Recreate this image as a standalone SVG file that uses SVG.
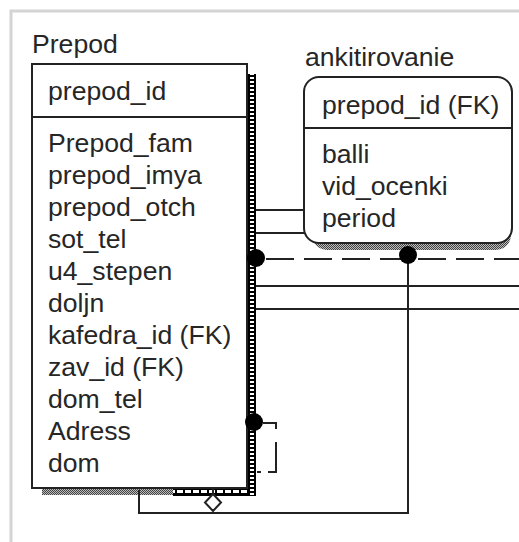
<svg xmlns="http://www.w3.org/2000/svg" width="519" height="542" viewBox="0 0 519 542">
  <defs>
    <pattern id="ladder" width="8" height="4" patternUnits="userSpaceOnUse">
      <rect width="8" height="4" fill="#000"/>
      <rect x="2" y="1" width="4" height="2" fill="#fff"/>
    </pattern>
    <pattern id="ladderH" width="8" height="8" patternUnits="userSpaceOnUse">
      <rect width="8" height="8" fill="#000"/>
      <rect x="1" y="2" width="6" height="3" fill="#fff"/>
    </pattern>
    <pattern id="dither" width="2" height="2" patternUnits="userSpaceOnUse">
      <rect width="2" height="2" fill="#bbb"/>
      <rect width="1" height="1" fill="#444"/>
      <rect x="1" y="1" width="1" height="1" fill="#444"/>
    </pattern>
  </defs>
  <style>
    text { font-family: "Liberation Sans", Arial, sans-serif; font-size: 26.6px; fill: #262626; }
    .box { fill: #fff; stroke: #222; stroke-width: 2; }
    .ln { fill: none; stroke: #222; stroke-width: 2; }
    .dash { fill: none; stroke: #222; stroke-width: 2; stroke-dasharray: 28 10; }
    .dot { fill: #000; }
  </style>
  <rect width="519" height="542" fill="#fff"/>
  <path d="M11 542 V11 H519" fill="none" stroke="#d4d4d4" stroke-width="3"/>

  <g id="prepod">
    <text x="32" y="53">Prepod</text>
    <rect x="42" y="488" width="131" height="7" fill="url(#dither)"/>
    <rect x="173" y="488" width="83" height="8" fill="url(#ladderH)"/>
    <rect x="248" y="74" width="8" height="422" fill="url(#ladder)"/>
    <rect class="box" x="32" y="64" width="215" height="424"/>
    <line class="ln" x1="32" y1="117" x2="247" y2="117"/>
    <text x="48" y="100">prepod_id</text>
    <text x="48" y="152">Prepod_fam</text>
    <text x="48" y="184">prepod_imya</text>
    <text x="48" y="216">prepod_otch</text>
    <text x="48" y="248">sot_tel</text>
    <text x="48" y="280">u4_stepen</text>
    <text x="48" y="312">doljn</text>
    <text x="48" y="344">kafedra_id (FK)</text>
    <text x="48" y="376">zav_id (FK)</text>
    <text x="48" y="408">dom_tel</text>
    <text x="48" y="440">Adress</text>
    <text x="48" y="472">dom</text>
  </g>

  <g id="ankitirovanie">
    <text x="305" y="66">ankitirovanie</text>
    <rect x="312" y="85" width="199" height="165" rx="15" fill="url(#dither)"/>
    <rect class="box" x="304" y="77" width="208" height="166" rx="15"/>
    <line class="ln" x1="304" y1="128" x2="512" y2="128"/>
    <text x="322" y="114">prepod_id (FK)</text>
    <text x="322" y="163">balli</text>
    <text x="322" y="195">vid_ocenki</text>
    <text x="322" y="227">period</text>
  </g>

  <g id="connectors">
    <line class="ln" x1="256" y1="210" x2="305" y2="210"/>
    <line class="ln" x1="256" y1="233" x2="305" y2="233"/>
    <line class="dash" x1="266" y1="259" x2="519" y2="259"/>
    <line class="ln" x1="256" y1="286" x2="519" y2="286"/>
    <line class="ln" x1="256" y1="309" x2="519" y2="309"/>
    <path class="ln" d="M408 255 V513 H139 V490"/>
    <circle class="dot" cx="256" cy="258" r="9"/>
    <circle class="dot" cx="408" cy="255" r="9"/>
    <line class="ln" x1="213" y1="488" x2="213" y2="494"/>
    <path d="M213 494 L221 502.5 L213 511 L205 502.5 Z" fill="#fff" stroke="#222" stroke-width="2"/>
    <circle class="dot" cx="254" cy="422" r="9"/>
    <path class="ln" d="M263 423 H276 V429"/>
    <path class="ln" d="M276 442 V472 H268"/>
    <line class="ln" x1="257" y1="472" x2="261" y2="472"/>
  </g>
</svg>
